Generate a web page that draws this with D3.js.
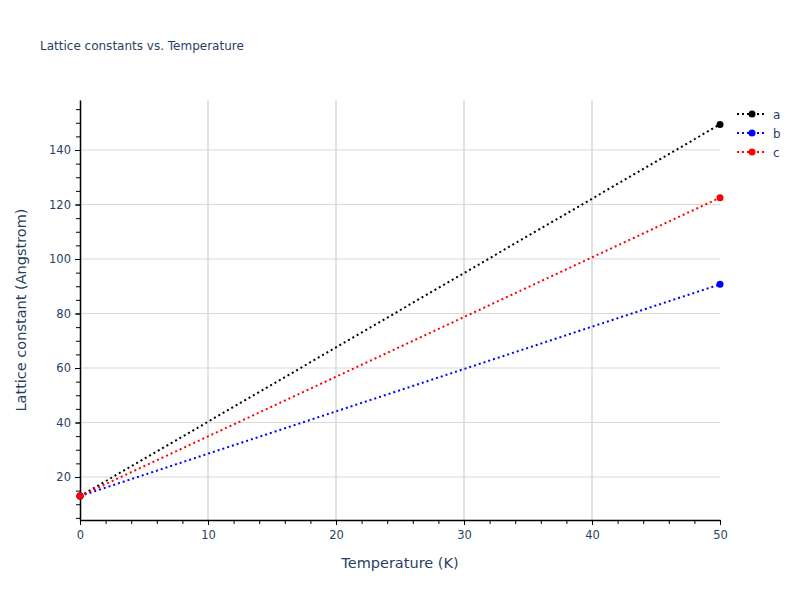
<!DOCTYPE html>
<html>
<head>
<meta charset="utf-8">
<script src="https://cdn.jsdelivr.net/npm/d3@7"></script>
<style>
  body { margin: 0; background: #fff; }
  text { font-family: "DejaVu Sans", Verdana, sans-serif; fill: #2a3f5f; }
</style>
</head>
<body>
<div id="chart"></div>
<script>
var svgWidth = 800;
var svgHeight = 600;

var margin = { top: 100, right: 80, bottom: 80, left: 80 };
var width = svgWidth - margin.left - margin.right;
var height = svgHeight - margin.top - margin.bottom;

// data
var temperature = [0, 50];
var seriesNames = ["a", "b", "c"];
var seriesColors = ["black", "blue", "red"];
var aValues = [13.0, 149.4];
var bValues = [13.0, 90.7];
var cValues = [13.0, 122.5];
var xTicks = [0, 10, 20, 30, 40, 50];
var yTicks = [20, 40, 60, 80, 100, 120, 140];

var allSeries = [aValues, bValues, cValues];

var svg = d3.select("#chart")
  .append("svg")
  .attr("width", svgWidth)
  .attr("height", svgHeight);

svg.append("text")
  .attr("x", 40)
  .attr("y", 50)
  .attr("font-size", "12px")
  .text("Lattice constants vs. Temperature");

var chartGroup = svg.append("g")
  .attr("transform", `translate(${margin.left}, ${margin.top})`);

var xScale = d3.scaleLinear().domain([0, 50]).range([0, width]);
var yScale = d3.scaleLinear().domain([4.22, 158.35]).range([height, 0]);

// grid lines
chartGroup.append("g")
  .selectAll("line")
  .data(xTicks.slice(1, -1))
  .enter()
  .append("line")
  .attr("x1", d => xScale(d))
  .attr("x2", d => xScale(d))
  .attr("y1", 0)
  .attr("y2", height)
  .attr("stroke", "#e2e2e2")
  .attr("stroke-width", 2);

chartGroup.append("g")
  .selectAll("line")
  .data(yTicks)
  .enter()
  .append("line")
  .attr("x1", 0)
  .attr("x2", width)
  .attr("y1", d => yScale(d))
  .attr("y2", d => yScale(d))
  .attr("stroke", "#d9d9d9")
  .attr("stroke-width", 1);

// minor ticks
var xMinor = d3.range(0, 50.1, 2);
var yMinor = d3.range(5, 158, 5);

chartGroup.append("g")
  .attr("transform", `translate(0, ${height})`)
  .call(d3.axisBottom(xScale).tickValues(xMinor).tickSize(4).tickFormat(""))
  .call(g => g.select(".domain").remove());

chartGroup.append("g")
  .call(d3.axisLeft(yScale).tickValues(yMinor).tickSize(4).tickFormat(""))
  .call(g => g.select(".domain").remove());

// major axes
var xAxis = chartGroup.append("g")
  .attr("transform", `translate(0, ${height})`)
  .call(d3.axisBottom(xScale).tickValues(xTicks).tickSize(5).tickPadding(6).tickSizeOuter(0));

var yAxis = chartGroup.append("g")
  .call(d3.axisLeft(yScale).tickValues(yTicks).tickSize(5).tickPadding(4).tickSizeOuter(0));

[xAxis, yAxis].forEach(function(ax) {
  ax.select(".domain").attr("stroke", "#000").attr("stroke-width", 1.5);
  ax.selectAll("text").attr("font-size", "11.5px").attr("fill", "#2a3f5f")
    .style("font-family", "'DejaVu Sans', sans-serif");
});

// lines and markers
var line = d3.line()
  .x((d, i) => xScale(temperature[i]))
  .y(d => yScale(d));

allSeries.forEach(function(values, k) {
  chartGroup.append("path")
    .datum(values)
    .attr("d", line)
    .attr("fill", "none")
    .attr("stroke", seriesColors[k])
    .attr("stroke-width", 2)
    .attr("stroke-dasharray", "2,3");

  chartGroup.append("g")
    .selectAll("circle")
    .data(values)
    .enter()
    .append("circle")
    .attr("cx", (d, i) => xScale(temperature[i]))
    .attr("cy", d => yScale(d))
    .attr("r", 3.5)
    .attr("fill", seriesColors[k]);
});

// axis titles
svg.append("text")
  .attr("x", margin.left + width / 2)
  .attr("y", 568)
  .attr("text-anchor", "middle")
  .attr("font-size", "14.5px")
  .text("Temperature (K)");

svg.append("text")
  .attr("transform", `translate(26, ${margin.top + height / 2}) rotate(-90)`)
  .attr("text-anchor", "middle")
  .attr("font-size", "14.5px")
  .text("Lattice constant (Angstrom)");

// legend
var legend = svg.append("g")
  .attr("transform", "translate(737, 114)");

seriesNames.forEach(function(name, k) {
  var row = legend.append("g").attr("transform", `translate(0, ${k * 19})`);
  row.append("line")
    .attr("x1", 0).attr("x2", 30)
    .attr("y1", 0).attr("y2", 0)
    .attr("stroke", seriesColors[k])
    .attr("stroke-width", 2)
    .attr("stroke-dasharray", "2,3");
  row.append("circle")
    .attr("cx", 15).attr("cy", 0).attr("r", 3.5)
    .attr("fill", seriesColors[k]);
  row.append("text")
    .attr("x", 36).attr("y", 4.5)
    .attr("font-size", "12px")
    .text(name);
});
</script>
</body>
</html>
